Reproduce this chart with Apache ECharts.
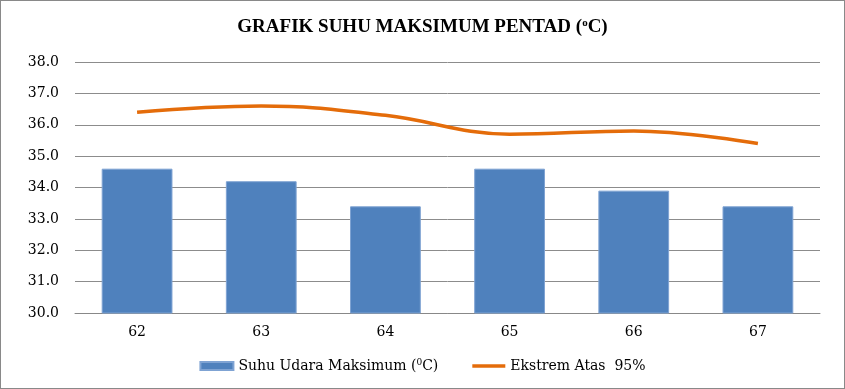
<!DOCTYPE html>
<html><head><meta charset="utf-8">
<script src="https://cdn.jsdelivr.net/npm/echarts@6/dist/echarts.min.js"></script>
<style>html,body{margin:0;padding:0;background:#fff}#c{width:845px;height:389px;box-sizing:border-box;border:1px solid #898989}</style>
</head><body><div id="c"></div>
<script>
const categories = ['62','63','64','65','66','67'];
const suhuMaks = [34.6, 34.2, 33.4, 34.6, 33.9, 33.4];
const ekstremAtas = [36.4, 36.6, 36.3, 35.7, 35.8, 35.4];
const yTicks = {min: 30, max: 38, interval: 1};

const font = '"Liberation Serif", "DejaVu Serif", serif';
const font2 = '"DejaVu Serif", "Liberation Serif", serif';
const name1 = 'Suhu Udara Maksimum (⁰C)';
const name2 = 'Ekstrem Atas  95%';
const chart = echarts.init(document.getElementById('c'));
chart.setOption({
  animation: false,
  title: {
    text: '{t|GRAFIK SUHU MAKSIMUM PENTAD (}{s|o}{t|C)}',
    left: 'center', top: 12,
    textStyle: {
      rich: {
        t: {fontFamily: font, fontWeight: 'bold', fontSize: 19, color: '#000'},
        s: {fontFamily: font, fontWeight: 'bold', fontSize: 11, color: '#000', verticalAlign: 'top', padding: [0,0,8,0]}
      }
    }
  },
  grid: {left: 74, right: 24, top: 61, bottom: 75},
  legend: {
    bottom: 10, left: 'center', itemGap: 34, itemWidth: 33, itemHeight: 8,
    textStyle: {
      fontFamily: font2, fontSize: 14, color: '#000',
      rich: {
        a: {fontFamily: font2, fontSize: 14, color: '#000'},
        s: {fontFamily: font2, fontSize: 9, color: '#000', verticalAlign: 'top', padding: [0,0,7,0]}
      }
    },
    formatter: n => n === name1 ? '{a|Suhu Udara Maksimum (}{s|0}{a|C)}' : '{a|' + n + '}',
    data: [
      {name: name1, icon: 'rect'},
      {name: name2, icon: 'path://M0,0 L10,0 L10,1 L0,1 Z'}
    ]
  },
  xAxis: {
    type: 'category', data: categories,
    axisLine: {lineStyle: {color: '#888', width: 1}},
    axisTick: {show: false},
    axisLabel: {fontFamily: font2, fontSize: 14, color: '#000', margin: 12}
  },
  yAxis: {
    type: 'value', min: yTicks.min, max: yTicks.max, interval: yTicks.interval,
    axisLine: {show: false}, axisTick: {show: false},
    axisLabel: {fontFamily: font2, fontSize: 14, color: '#000', margin: 16, formatter: v => v.toFixed(1)},
    splitLine: {lineStyle: {color: '#8c8c8c', width: 1}}
  },
  series: [
    {
      name: name1, type: 'bar', data: suhuMaks,
      barWidth: '57%',
      itemStyle: {color: '#4F81BD', borderColor: '#7FA3D3', borderWidth: 1}
    },
    {
      name: name2, type: 'line', data: ekstremAtas,
      smooth: 0.4, symbol: 'none',
      lineStyle: {color: '#E46C0A', width: 3.5},
      itemStyle: {color: '#E46C0A'}
    }
  ]
});
</script></body></html>
